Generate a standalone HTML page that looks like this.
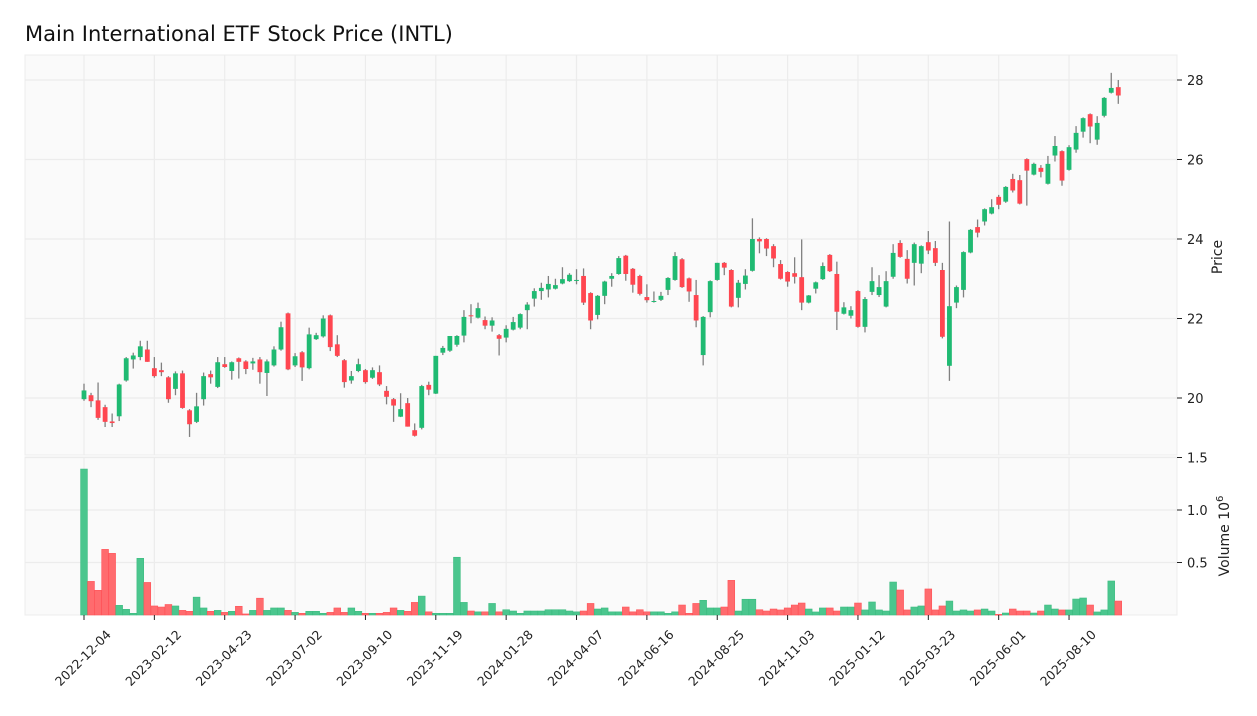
<!DOCTYPE html>
<html><head><meta charset="utf-8"><style>
html,body{margin:0;padding:0;background:#fff;}
svg{display:block;font-family:"DejaVu Sans","Liberation Sans",sans-serif;}
</style></head><body>
<svg id="chart" width="1257" height="716" viewBox="0 0 1257 716" xmlns="http://www.w3.org/2000/svg">
<rect x="0" y="0" width="1257" height="716" fill="#ffffff"/>
<text x="25" y="41" font-size="21" fill="#111">Main International ETF Stock Price (INTL)</text>
<rect x="25" y="55" width="1152" height="400" fill="#fafafa" stroke="#ececec"/>
<rect x="25" y="457" width="1152" height="158" fill="#fafafa" stroke="#ececec"/>
<g id="grid"></g><g id="vol"></g><g id="candles"></g><g id="axes"></g>
<text transform="translate(1222,257) rotate(-90)" text-anchor="middle" font-size="14" fill="#222">Price</text>
<text transform="translate(1229,536) rotate(-90)" text-anchor="middle" font-size="14" fill="#222">Volume  10<tspan dy="-6" font-size="10">6</tspan></text>
</svg>
<script>
const opens=[19.97,20.07,19.94,19.77,19.41,19.54,20.44,20.97,21.03,21.22,20.75,20.70,20.52,20.23,20.62,19.69,19.40,19.97,20.60,20.28,20.85,20.68,21.00,20.92,20.87,20.97,20.63,20.82,21.22,22.13,20.82,21.15,20.75,21.48,21.55,22.08,21.35,20.95,20.44,20.68,20.70,
20.51,20.65,20.18,19.97,19.53,19.87,19.19,19.25,20.33,20.11,21.14,21.19,21.34,21.57,22.08,22.02,21.96,21.82,21.58,21.52,21.72,21.77,22.21,22.50,22.69,22.73,22.75,22.88,22.94,22.95,23.07,22.64,22.09,22.57,23.00,23.12,23.58,23.25,23.07,22.54,22.43,
22.47,22.72,22.97,23.49,23.01,22.59,21.08,22.16,22.97,23.40,23.22,22.52,22.87,23.20,24.00,24.00,23.82,23.37,23.17,23.14,23.04,22.40,22.75,22.99,23.60,23.12,22.12,22.07,22.69,21.79,22.67,22.59,22.30,23.05,23.90,23.50,23.40,23.38,23.92,23.77,
23.22,20.81,22.40,22.72,23.66,24.30,24.44,24.64,25.06,24.94,25.51,25.48,26.01,25.62,25.79,25.39,26.10,26.21,25.74,26.25,26.70,27.14,26.50,27.10,27.68,27.82];
const closes=[20.19,19.92,19.50,19.40,19.37,20.34,21.00,21.07,21.30,20.91,20.55,20.65,19.97,20.62,19.75,19.34,19.79,20.55,20.52,20.90,20.78,20.90,20.91,20.73,20.92,20.65,20.92,21.22,21.78,20.72,21.05,20.77,21.60,21.58,22.00,21.28,21.06,20.40,20.55,20.85,20.40,
20.70,20.34,20.03,19.81,19.72,19.28,19.05,20.30,20.21,21.06,21.26,21.56,21.56,22.04,22.07,22.26,21.82,21.95,21.49,21.74,21.91,22.11,22.35,22.69,22.77,22.87,22.84,22.99,23.10,22.97,22.40,21.95,22.57,22.93,23.07,23.52,23.12,22.85,22.62,22.46,22.44,
22.57,23.02,23.57,22.79,22.68,21.95,22.04,22.94,23.40,23.28,22.30,22.90,23.08,24.00,23.94,23.76,23.51,23.00,22.93,23.05,22.40,22.58,22.91,23.32,23.19,22.17,22.28,22.21,21.79,22.49,22.94,22.79,22.94,23.65,23.55,23.00,23.87,23.82,23.71,23.40,
21.54,22.31,22.79,23.67,24.23,24.16,24.75,24.80,24.86,25.31,25.22,24.89,25.72,25.89,25.69,25.89,26.34,25.47,26.31,26.67,27.04,26.83,26.92,27.55,27.80,27.61];
const highs=[20.36,20.13,20.39,19.83,19.61,20.36,21.03,21.14,21.44,21.44,21.03,20.89,20.55,20.67,20.69,19.72,20.13,20.64,20.69,21.03,21.03,20.92,21.02,20.95,21.01,21.03,20.97,21.30,21.92,22.15,21.13,21.18,21.77,21.64,22.08,22.10,21.58,20.98,20.68,20.99,20.73,
20.77,20.82,20.30,20.00,20.12,20.00,19.36,20.33,20.41,21.06,21.31,21.56,21.58,22.21,22.36,22.40,22.05,22.03,21.61,21.83,22.04,22.13,22.41,22.76,22.90,23.07,23.00,23.29,23.14,23.24,23.26,22.66,22.59,22.95,23.14,23.57,23.60,23.27,23.10,22.86,22.68,
22.67,23.04,23.67,23.52,23.03,22.97,22.06,22.96,23.40,23.42,23.24,22.97,23.24,24.52,24.04,24.02,23.87,23.47,23.19,23.54,23.99,22.59,22.93,23.41,23.62,23.43,22.41,22.31,22.71,22.54,23.29,23.09,23.19,23.87,23.97,23.72,23.91,23.84,24.20,23.95,
23.40,24.44,22.83,23.69,24.25,24.49,24.77,25.00,25.11,25.33,25.64,25.61,26.03,25.92,25.86,26.09,26.59,26.23,26.36,26.84,27.06,27.16,27.09,27.57,28.18,28.00];
const lows=[19.93,19.77,19.45,19.27,19.27,19.42,20.41,20.74,20.95,20.91,20.51,20.55,19.88,20.07,19.73,19.02,19.37,19.81,20.36,20.25,20.76,20.46,20.49,20.60,20.71,20.36,20.05,20.79,21.19,20.70,20.78,20.43,20.72,21.46,21.52,21.18,21.03,20.26,20.36,20.65,20.36,
20.48,20.30,19.84,19.40,19.52,19.28,19.03,19.21,20.07,20.10,21.08,21.16,21.29,21.40,21.88,22.00,21.73,21.67,21.07,21.40,21.70,21.73,21.73,22.30,22.47,22.53,22.73,22.86,22.92,22.86,22.34,21.73,21.98,22.36,22.80,23.10,22.95,22.65,22.58,22.40,22.40,
22.44,22.59,22.95,22.77,22.42,21.78,20.82,22.03,22.95,23.09,22.28,22.28,22.73,23.18,23.64,23.57,23.29,22.98,22.80,22.88,22.21,22.38,22.63,22.97,23.17,21.71,22.10,22.00,21.77,21.65,22.59,22.54,22.28,23.00,23.53,22.88,22.83,23.14,23.62,23.32,
21.50,20.43,22.26,22.53,23.64,24.04,24.34,24.62,24.75,24.91,25.17,24.87,24.84,25.60,25.55,25.37,25.95,25.34,25.72,26.17,26.55,26.41,26.37,27.06,27.66,27.40];
const volumes=[1.39,0.32,0.235,0.625,0.587,0.092,0.054,0.016,0.54,0.31,0.086,0.076,0.10,0.086,0.044,0.035,0.17,0.067,0.035,0.044,0.025,0.035,0.083,0.01,0.044,0.16,0.044,0.067,0.067,0.044,0.025,0.016,0.035,0.035,0.016,0.025,0.067,0.025,0.067,0.035,0.016,0.016,0.016,0.025,0.067,0.044,0.035,0.12,0.18,
0.03,0.016,0.016,0.016,0.55,0.12,0.038,0.03,0.03,0.11,0.03,0.05,0.038,0.016,0.038,0.038,0.038,0.05,0.05,0.05,0.038,0.03,0.038,0.11,0.057,0.067,0.03,0.03,0.076,0.03,0.05,0.03,0.03,0.03,0.016,0.03,0.095,0.016,0.11,0.14,0.067,0.067,0.076,0.33,0.038,0.15,0.15,0.05,0.038,0.057,
0.048,0.067,0.095,0.114,0.057,0.029,0.067,0.067,0.038,0.076,0.076,0.114,0.048,0.124,0.048,0.038,0.314,0.238,0.048,0.076,0.086,0.248,0.048,0.086,0.133,0.038,0.048,0.038,0.048,0.057,0.038,0.006,0.019,0.057,0.038,0.038,0.019,0.038,0.095,0.057,0.048,0.048,0.152,0.162,0.095,0.029,0.048,0.324,0.133];
const tickLabels=["2022-12-04","2023-02-12","2023-04-23","2023-07-02","2023-09-10","2023-11-19","2024-01-28","2024-04-07","2024-06-16","2024-08-25","2024-11-03","2025-01-12","2025-03-23","2025-06-01","2025-08-10"];
const tickIndex=[0,10,20,30,40,50,60,70,80,90,100,110,120,130,140];
const priceTicks=[20,22,24,26,28];
const volTicks=[0.5,1.0,1.5];

const NS="http://www.w3.org/2000/svg";
const xAt=i=>84+7.036*i;
const yP=p=>398-(p-20)*39.75;
const yV=v=>615-v*105;
function mk(tag,attrs,parent){const e=document.createElementNS(NS,tag);for(const k in attrs)e.setAttribute(k,attrs[k]);parent.appendChild(e);return e;}
const grid=document.getElementById('grid'),vol=document.getElementById('vol'),cg=document.getElementById('candles'),ax=document.getElementById('axes');
tickIndex.forEach((ti,k)=>{
  const x=xAt(ti);
  const g1=mk('line',{x1:x,x2:x,y1:55,y2:455,stroke:'#ececec','stroke-width':1.2},grid);
  
  
  const g2=mk('line',{x1:x,x2:x,y1:457,y2:615,stroke:'#ececec','stroke-width':1.2},grid);
  
  
  const tm=mk('line',{x1:x,x2:x,y1:615,y2:620,stroke:'#222','stroke-width':1},ax);
  
  
  const t=mk('text',{transform:`translate(${x-1},${658}) rotate(-45)`,'text-anchor':'middle',dy:'0.35em','font-size':12.5,fill:'#222'},ax);
  t.textContent=tickLabels[k];
  
  
});
priceTicks.forEach(p=>{
  const y=yP(p);
  const g=mk('line',{x1:25,x2:1177,y1:y,y2:y,stroke:'#ececec','stroke-width':1.2},grid);
  
  
  const tm=mk('line',{x1:1177,x2:1182,y1:y,y2:y,stroke:'#222'},ax);
  
  
  const t=mk('text',{x:1187,y:y+5,'font-size':13,fill:'#222'},ax);
  t.textContent=p;
  
  
});
volTicks.forEach(v=>{
  const y=yV(v);
  const g=mk('line',{x1:25,x2:1177,y1:y,y2:y,stroke:'#ececec','stroke-width':1.2},grid);
  
  
  const tm=mk('line',{x1:1177,x2:1182,y1:y,y2:y,stroke:'#222'},ax);
  
  
  const t=mk('text',{x:1187,y:y+5,'font-size':13,fill:'#222'},ax);
  t.textContent=v.toFixed(1);
  
  
});
opens.forEach((o,i)=>{
  const c=closes[i],x=xAt(i),up=c>=o;
  const w=mk('line',{x1:x,x2:x,y1:yP(highs[i]),y2:yP(lows[i]),stroke:'#808080','stroke-width':1.3},cg);
  
  
  const top=yP(Math.max(o,c)),bot=yP(Math.min(o,c));
  const b=mk('rect',{x:x-2.4,y:top,width:4.8,height:Math.max(1,bot-top),fill:up?'#1fba72':'#ff4650'},cg);
  
  
  const vy=yV(volumes[i]);
  const vb=mk('rect',{x:x-3.4,y:vy,width:6.8,height:Math.max(0.8,615-vy),fill:up?'#4bc68e':'#ff6b6e',stroke:up?'#3cbc80':'#ff5358','stroke-width':0.6},vol);
  
  
});
</script>
</body></html>
